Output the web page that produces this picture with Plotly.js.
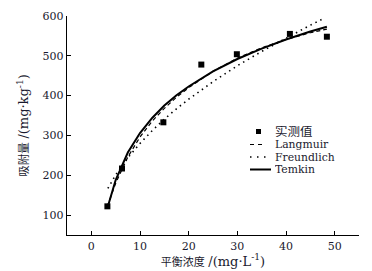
<!DOCTYPE html>
<html><head><meta charset="utf-8">
<script src="https://cdn.plot.ly/plotly-3.0.1.min.js"></script>
<style>html,body{margin:0;padding:0;background:#fff}#c{width:372px;height:271px}</style>
</head><body><div id="c"></div>
<script>
// Measured data (实测值)
const obsX = [3.3, 6.3, 14.8, 22.6, 29.9, 40.8, 48.4];
const obsY = [122, 217, 333, 478, 504, 555, 548];
// Fitted curves
const fitX = [3.3, 5, 7.5, 10, 12.5, 15, 17.5, 20, 25, 30, 35, 40, 45, 48.4];
const langY = [122, 180, 246, 296, 336, 368, 396, 420, 461, 494, 520, 541, 558, 567];
const tempY = [118, 188, 257, 306, 344, 375, 401, 423, 461, 492, 518, 541, 561, 573];
const freuX = [3.4, 5, 7.5, 10, 12.5, 15, 17.5, 20, 25, 30, 35, 40, 45, 47.3];
const freuY = [167, 201, 244, 280, 312, 341, 367, 391, 435, 475, 511, 545, 577, 591];
const xTicks = [0, 10, 20, 30, 40, 50];
const yTicks = [100, 200, 300, 400, 500, 600];
const seriesNames = ['实测值', 'Langmuir', 'Freundlich', 'Temkin'];

const F = '"DejaVu Serif", "Noto Sans CJK SC", serif';
const TXT = '#1a1a2e';
const M = {l: 67, r: 13, t: 16, b: 36};
const W = 372, H = 271;
const pw = W - M.l - M.r, ph = H - M.t - M.b;
const px = v => (v - M.l) / pw;
const py = v => (H - M.b - v) / ph;

const traces = [
  {x: obsX, y: obsY, mode: 'markers', name: seriesNames[0], marker: {symbol: 'square', size: 6, color: '#000'}},
  {x: fitX, y: langY, mode: 'lines', name: seriesNames[1], line: {color: '#000', width: 1.2, dash: '4px,3px'}},
  {x: freuX, y: freuY, mode: 'lines', name: seriesNames[2], line: {color: '#000', width: 1.6, dash: '1.5px,4px'}},
  {x: fitX, y: tempY, mode: 'lines', name: seriesNames[3], line: {color: '#000', width: 2}}
];

// Compact legend (rows ~12px apart, as in the reference)
const rowY = [131.5, 144.5, 157, 169.5];
const annotations = seriesNames.map((n, i) => ({
  xref: 'paper', yref: 'paper', x: px(274), y: py(rowY[i]), xanchor: 'left', yanchor: 'middle',
  text: n, showarrow: false, height: 11, borderpad: 0,
  font: {family: F, size: i === 0 ? 12.5 : 10.8, color: TXT}
}));
const shapes = [
  {type: 'rect', xref: 'paper', yref: 'paper', x0: px(256), x1: px(261), y0: py(rowY[0] - 2.5), y1: py(rowY[0] + 2.5),
    fillcolor: '#000', line: {width: 0}},
  {type: 'line', xref: 'paper', yref: 'paper', x0: px(250), x1: px(265), y0: py(rowY[1]), y1: py(rowY[1]),
    line: {color: '#000', width: 1.2, dash: '4px,4px'}},
  {type: 'line', xref: 'paper', yref: 'paper', x0: px(250), x1: px(267), y0: py(rowY[2]), y1: py(rowY[2]),
    line: {color: '#000', width: 1.6, dash: '1.5px,5.5px'}},
  {type: 'line', xref: 'paper', yref: 'paper', x0: px(250), x1: px(271), y0: py(rowY[3]), y1: py(rowY[3]),
    line: {color: '#000', width: 2}}
];

const L = s => '<span style="font-size:13px">' + s + '</span>';
const layout = {
  width: W, height: H, margin: M,
  paper_bgcolor: '#fff', plot_bgcolor: '#fff',
  font: {family: F, color: TXT, size: 11},
  showlegend: false,
  annotations: annotations, shapes: shapes,
  xaxis: {range: [-5, 55], tickvals: xTicks, ticks: 'inside', ticklen: 4, tickcolor: '#000',
    showline: true, linecolor: '#000', linewidth: 1.3, showgrid: false, zeroline: false,
    tickfont: {family: F, size: 11, color: TXT},
    title: {text: '平衡浓度 ' + L('/(mg·L<sup>-1</sup>)'), font: {family: F, size: 11, color: TXT}, standoff: 1}},
  yaxis: {range: [50, 600], tickvals: yTicks, ticks: 'inside', ticklen: 4, tickcolor: '#000',
    showline: true, linecolor: '#000', linewidth: 1.3, showgrid: false, zeroline: false,
    tickfont: {family: F, size: 11, color: TXT},
    title: {text: '吸附量 ' + L('/(mg·kg<sup>-1</sup>)'), font: {family: F, size: 11.5, color: TXT}, standoff: 11}}
};
Plotly.newPlot('c', traces, layout, {displayModeBar: false, staticPlot: true});
</script></body></html>
